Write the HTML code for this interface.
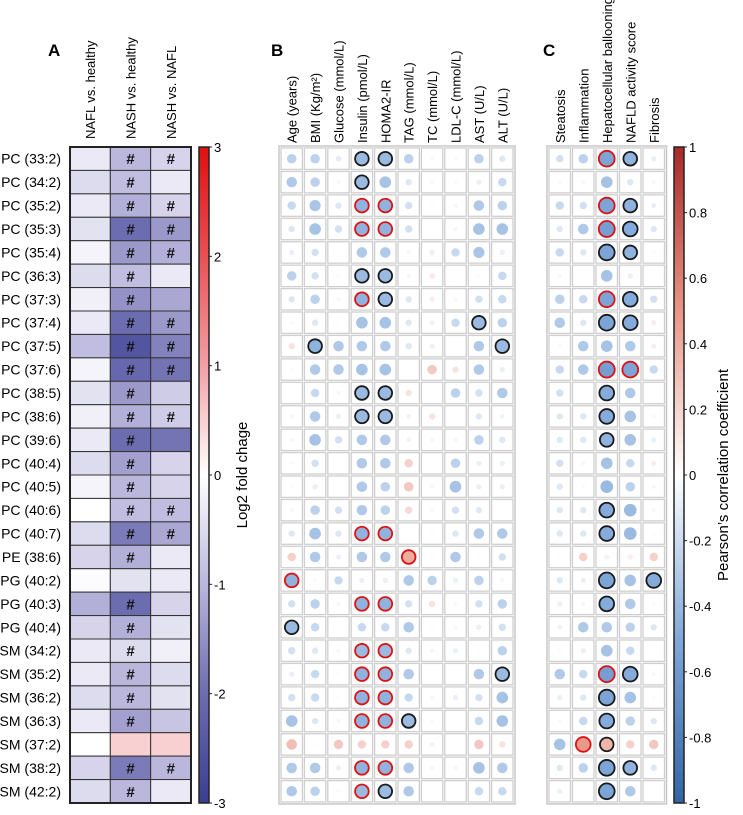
<!DOCTYPE html>
<html><head><meta charset="utf-8"><style>
body{margin:0;background:#fff;}
svg{display:block;font-family:"Liberation Sans",Arial,sans-serif;}
</style></head><body>
<svg id="fig" width="743" height="815" viewBox="0 0 743 815"></svg>
<script>
const lipids=["PC (33:2)","PC (34:2)","PC (35:2)","PC (35:3)","PC (35:4)","PC (36:3)","PC (37:3)","PC (37:4)","PC (37:5)","PC (37:6)","PC (38:5)","PC (38:6)","PC (39:6)","PC (40:4)","PC (40:5)","PC (40:6)","PC (40:7)","PE (38:6)","PG (40:2)","PG (40:3)","PG (40:4)","SM (34:2)","SM (35:2)","SM (36:2)","SM (36:3)","SM (37:2)","SM (38:2)","SM (42:2)"];
const compA=["NAFL vs. healthy","NASH vs. healthy","NASH vs. NAFL"];
const fcNAFLvsHealthy=[-.3,-.5,-.3,-.4,-.15,-.5,-.2,-.3,-.9,-.15,-.4,-.2,-.3,-.5,-.15,0,-.5,-.6,-.05,-1.1,-.6,-.3,-.3,-.5,-.3,0,-.6,-.5];
const fcNASHvsHealthy=[-1.0,-.9,-1.1,-2.0,-1.4,-.9,-1.5,-2.0,-2.5,-2.1,-1.4,-1.1,-2.0,-1.3,-1.0,-.9,-1.8,-1.1,-.4,-2.0,-1.1,-.5,-1.0,-1.0,-1.3,.5,-1.8,-1.0];
const fcNASHvsNAFL=[-.6,-.3,-.6,-1.4,-1.1,-.3,-1.2,-1.4,-1.7,-1.9,-.7,-.7,-1.9,-.6,-.6,-.9,-1.2,-.3,-.3,-.6,-.4,-.2,-.5,-.4,-.8,.5,-1.0,-.3];
const sigNAFLvsHealthy=[0,0,0,0,0,0,0,0,0,0,0,0,0,0,0,0,0,0,0,0,0,0,0,0,0,0,0,0];
const sigNASHvsHealthy=[1,1,1,1,1,1,1,1,1,1,1,1,1,1,1,1,1,1,0,1,1,1,1,1,1,0,1,1];
const sigNASHvsNAFL=[1,0,1,1,1,0,0,1,1,1,0,1,0,0,0,1,1,0,0,0,0,0,0,0,0,0,1,0];
const colorbarTicksA=[3,2,1,0,-1,-2,-3];
const clinVars=["Age (years)","BMI (Kg/m²)","Glucose (mmol/L)","Insulin (pmol/L)","HOMA2-IR","TAG (mmol/L)","TC (mmol/L)","LDL-C (mmol/L)","AST (U/L)","ALT (U/L)"];
const rB=[
[-.3,-.3,-.12,-.45,-.45,-.3,.05,-.03,-.3,-.15],
[-.35,-.3,.05,-.45,-.4,-.15,.05,-.03,-.1,-.25],
[-.25,-.38,-.15,-.5,-.5,-.2,.02,-.05,-.35,-.3],
[-.15,-.4,-.2,-.5,-.5,-.2,0,-.05,-.4,-.4],
[-.1,-.2,0,-.35,-.35,-.05,-.1,-.25,-.38,-.1],
[-.3,-.2,-.02,-.45,-.45,-.05,.12,0,-.02,-.25],
[-.15,-.3,-.05,-.5,-.45,-.15,.1,.05,-.2,-.25],
[-.03,-.15,-.02,-.4,-.4,-.15,-.08,-.25,-.45,-.3],
[.15,-.5,-.35,-.35,-.35,-.15,.1,0,-.35,-.45],
[-.03,-.35,-.35,-.4,-.4,0,.3,.15,-.35,-.1],
[0,-.25,-.05,-.45,-.45,.15,0,-.3,-.2,-.35],
[-.05,-.35,-.1,-.45,-.45,.08,.15,-.02,-.15,-.08],
[.05,-.4,-.2,-.35,-.35,.08,.05,-.05,-.3,-.15],
[-.03,-.2,0,-.35,-.35,.25,.02,-.3,-.1,-.1],
[-.03,-.1,0,-.35,-.3,.3,-.05,-.4,-.1,-.1],
[-.05,-.3,-.2,-.35,-.3,.2,.05,-.2,-.15,0],
[-.15,-.4,-.15,-.5,-.5,0,.02,-.15,-.35,-.35],
[.25,-.35,-.1,-.35,-.35,.45,.02,-.35,.02,-.2],
[-.5,-.03,-.25,-.1,-.1,-.35,-.3,-.1,-.3,-.05],
[-.2,-.3,-.05,-.5,-.5,-.2,.15,.03,-.2,-.3],
[-.45,-.25,0,-.25,-.25,-.35,.02,.05,-.1,-.2],
[-.2,-.15,.05,-.45,-.45,-.15,-.05,-.1,.02,-.3],
[-.1,-.25,.02,-.5,-.5,-.35,0,0,-.35,-.45],
[-.2,-.25,.02,-.5,-.5,-.25,-.05,-.1,-.2,-.4],
[-.4,-.15,-.05,-.5,-.5,-.45,-.03,0,-.25,-.4],
[.35,.02,.3,.25,.25,.25,.08,0,.3,.15],
[-.35,-.35,-.1,-.5,-.5,-.35,-.05,-.05,-.4,-.35],
[-.35,-.3,-.03,-.45,-.45,-.35,-.02,-.02,-.25,-.25]];
const sigB=[
[0,0,0,1,1,0,0,0,0,0],[0,0,0,1,0,0,0,0,0,0],[0,0,0,2,2,0,0,0,0,0],[0,0,0,2,2,0,0,0,0,0],
[0,0,0,0,0,0,0,0,0,0],[0,0,0,1,1,0,0,0,0,0],[0,0,0,2,1,0,0,0,0,0],[0,0,0,0,0,0,0,0,1,0],
[0,1,0,0,0,0,0,0,0,1],[0,0,0,0,0,0,0,0,0,0],[0,0,0,1,1,0,0,0,0,0],[0,0,0,1,1,0,0,0,0,0],
[0,0,0,0,0,0,0,0,0,0],[0,0,0,0,0,0,0,0,0,0],[0,0,0,0,0,0,0,0,0,0],[0,0,0,0,0,0,0,0,0,0],
[0,0,0,2,2,0,0,0,0,0],[0,0,0,0,0,2,0,0,0,0],[2,0,0,0,0,0,0,0,0,0],[0,0,0,2,2,0,0,0,0,0],
[1,0,0,0,0,0,0,0,0,0],[0,0,0,2,2,0,0,0,0,0],[0,0,0,2,2,0,0,0,0,1],[0,0,0,2,2,0,0,0,0,0],
[0,0,0,2,2,1,0,0,0,0],[0,0,0,0,0,0,0,0,0,0],[0,0,0,2,2,0,0,0,0,0],[0,0,0,2,1,0,0,0,0,0]];
const histVars=["Steatosis","Inflammation","Hepatocellular ballooning","NAFLD activity score","Fibrosis"];
const rC=[
[-.2,-.3,-.6,-.5,-.1],[-.03,.05,-.4,-.15,-.05],[-.25,-.2,-.6,-.5,-.1],[-.15,-.35,-.65,-.55,-.15],
[-.25,-.15,-.6,-.5,-.02],[.05,0,-.4,-.1,0],[-.3,-.25,-.6,-.55,-.2],[-.35,-.15,-.6,-.55,.1],
[-.03,-.35,-.4,-.35,.1],[-.25,-.35,-.65,-.6,-.25],[-.2,0,-.55,-.35,0],[-.15,-.15,-.55,-.4,-.03],
[-.15,-.15,-.5,-.4,-.1],[-.2,.05,-.4,-.25,.1],[-.15,-.03,-.45,-.3,-.05],[-.15,-.15,-.55,-.45,-.05],
[-.15,-.15,-.55,-.45,-.02],[-.02,.25,-.08,.1,.25],[-.15,-.1,-.6,-.4,-.55],[-.1,-.05,-.55,-.35,-.03],
[.08,-.35,-.35,-.3,-.15],[.03,-.1,-.4,-.25,0],[-.35,-.25,-.65,-.55,-.05],[-.1,-.15,-.6,-.4,-.03],
[.05,-.25,-.55,-.3,-.15],[-.4,.55,.4,.25,.3],[-.15,-.3,-.6,-.5,-.15],[-.1,0,-.6,-.35,0]];
const sigC=[
[0,0,2,1,0],[0,0,0,0,0],[0,0,2,1,0],[0,0,2,1,0],[0,0,1,1,0],[0,0,0,0,0],[0,0,2,1,0],[0,0,1,1,0],
[0,0,0,0,0],[0,0,2,2,0],[0,0,1,0,0],[0,0,1,0,0],[0,0,1,0,0],[0,0,0,0,0],[0,0,0,0,0],[0,0,1,0,0],
[0,0,1,0,0],[0,0,0,0,0],[0,0,1,0,1],[0,0,1,0,0],[0,0,0,0,0],[0,0,0,0,0],[0,0,2,1,0],[0,0,1,0,0],
[0,0,1,0,0],[0,2,1,0,0],[0,0,1,1,0],[0,0,1,0,0]];
const colorbarTicksC=[1,0.8,0.6,0.4,0.2,0,-0.2,-0.4,-0.6,-0.8,-1];

const svg=document.getElementById('fig');const NS='http://www.w3.org/2000/svg';
function el(t,a,p){const e=document.createElementNS(NS,t);for(const k in a)e.setAttribute(k,a[k]);(p||svg).appendChild(e);return e;}
function lerp(a,b,t){return a.map((v,i)=>Math.round(v+(b[i]-v)*t));}
function ramp(stops,v){for(let i=0;i<stops.length-1;i++){if(v<=stops[i+1][0]){const t=(v-stops[i][0])/(stops[i+1][0]-stops[i][0]);const c=lerp(stops[i][1],stops[i+1][1],t);return `rgb(${c})`;}}return `rgb(${stops[stops.length-1][1]})`;}
const stopsA=[[-3,[58,62,145]],[-2,[108,108,176]],[-1,[186,182,220]],[0,[255,255,255]],[1,[242,160,165]],[2,[232,80,85]],[3,[222,16,16]]];
const stopsC=[[-1,[50,100,165]],[-.5,[128,168,218]],[0,[255,255,255]],[.5,[232,150,135]],[1,[170,40,40]]];
const colA=v=>ramp(stopsA,Math.max(-3,Math.min(3,v)));
const colC=v=>ramp(stopsC,Math.max(-1,Math.min(1,v)));

const gridTop=147,gridBottom=803,nRows=lipids.length,rh=(gridBottom-gridTop)/nRows;
const yRow=i=>gridTop+rh*(i+0.5);
el('text',{x:48,y:56,'font-size':17,'font-weight':'bold',}).textContent='A';
const ax0=70,ax1=191,aw=(ax1-ax0)/3;
const fcCols=[fcNAFLvsHealthy,fcNASHvsHealthy,fcNASHvsNAFL],sigCols=[sigNAFLvsHealthy,sigNASHvsHealthy,sigNASHvsNAFL];
compA.forEach((c,j)=>{const x=ax0+aw*(j+.5)+5;const t=el('text',{x:0,y:0,'font-size':13,transform:`translate(${x},139) rotate(-90)`});
t.textContent=c;});
lipids.forEach((l,i)=>{const t=el('text',{x:61,y:yRow(i)+5,'font-size':14,'text-anchor':'end'});
t.textContent=l;
for(let j=0;j<3;j++){const r=el('rect',{x:ax0+aw*j,y:gridTop+rh*i,width:aw,height:rh,fill:colA(fcCols[j][i]),stroke:'#333','stroke-width':1});

if(sigCols[j][i]){const h=el('text',{x:ax0+aw*(j+.5),y:yRow(i)+5.5,'font-size':15,'font-weight':'bold','text-anchor':'middle',fill:'#111'});
h.textContent='#';}}});
el('rect',{x:ax0,y:gridTop,width:ax1-ax0,height:gridBottom-gridTop,fill:'none',stroke:'#222','stroke-width':2,});
const gA=el('defs',{});const lgA=el('linearGradient',{id:'gA',x1:0,y1:0,x2:0,y2:1},gA);
for(let k=0;k<=12;k++){const v=3-k*0.5;el('stop',{offset:k/12,'stop-color':colA(v)},lgA);}
el('rect',{x:199,y:gridTop,width:10,height:gridBottom-gridTop,fill:'url(#gA)',stroke:'#222','stroke-width':1.5,});
const yA=v=>gridTop+(3-v)/6*(gridBottom-gridTop);
colorbarTicksA.forEach(v=>{el('line',{x1:209,x2:212,y1:yA(v),y2:yA(v),stroke:'#222'});
const t=el('text',{x:214,y:yA(v)+5,'font-size':13});t.textContent=(v<0?'-':'')+Math.abs(v);});
el('text',{x:0,y:0,'font-size':15,transform:'translate(247,475) rotate(-90)','text-anchor':'middle',}).textContent='Log2 fold chage';

function dotPanel(x0,cw,vars,R,S,prefix){
vars.forEach((c,j)=>{const t=el('text',{x:0,y:0,'font-size':13,transform:`translate(${x0+cw*(j+.5)+5},143) rotate(-90)`});
t.textContent=c;});
el('rect',{x:x0-1,y:gridTop-1,width:cw*vars.length+2,height:gridBottom-gridTop+2,fill:'none',stroke:'#c8c8c8','stroke-width':1.5});
R.forEach((row,i)=>row.forEach((v,j)=>{
const c=el('rect',{x:x0+cw*j+1,y:gridTop+rh*i+1,width:cw-2,height:rh-2,fill:'#fff',stroke:'#cfcfcf','stroke-width':1.3});

const a=Math.abs(v);if(a<0.015)return;const s=S[i][j];
const rad=Math.min(8,1.6+10.5*a);
const d=el('circle',{cx:x0+cw*(j+.5),cy:yRow(i),r:s?Math.max(rad,6.8):rad,fill:colC(v*0.88),stroke:s==2?'#e01010':s==1?'#1a1a1a':'none','stroke-width':s?1.8:0});
}));}
el('text',{x:271,y:56,'font-size':17,'font-weight':'bold',}).textContent='B';
dotPanel(280,23.4,clinVars,rB,sigB,'clinical');
el('text',{x:543,y:56,'font-size':17,'font-weight':'bold',}).textContent='C';
dotPanel(548,23.5,histVars,rC,sigC,'histology');
const lgC=el('linearGradient',{id:'gC',x1:0,y1:0,x2:0,y2:1},gA);
for(let k=0;k<=20;k++){const v=1-k*0.1;el('stop',{offset:k/20,'stop-color':colC(v)},lgC);}
el('rect',{x:674,y:gridTop,width:10,height:gridBottom-gridTop,fill:'url(#gC)',stroke:'#222','stroke-width':1.5,});
const yC=v=>gridTop+(1-v)/2*(gridBottom-gridTop);
colorbarTicksC.forEach(v=>{el('line',{x1:684,x2:687,y1:yC(v),y2:yC(v),stroke:'#222'});
const t=el('text',{x:689,y:yC(v)+5,'font-size':13});t.textContent=(v<0?'-':'')+String(Math.abs(v));});
el('text',{x:0,y:0,'font-size':15,transform:'translate(728,475) rotate(-90)','text-anchor':'middle',}).textContent='Pearson\u2019s correlation coefficient';
</script>
</body></html>
